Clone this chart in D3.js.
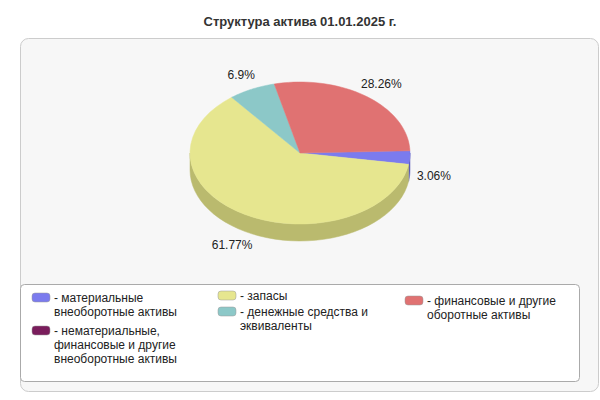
<!DOCTYPE html>
<html><head><meta charset="utf-8">
<script src="https://cdn.jsdelivr.net/npm/d3@7"></script>
<style>body{margin:0;background:#fff;font-family:"Liberation Sans",Arial,sans-serif}</style>
</head><body><svg width="600" height="400"></svg>
<script>
const categories = ["материальные внеоборотные активы","нематериальные, финансовые и другие внеоборотные активы","запасы","денежные средства и эквиваленты","финансовые и другие оборотные активы"];
const values = [3.06, 0, 61.77, 6.9, 28.26];
const labels = ["3.06%", "", "61.77%", "6.9%", "28.26%"];
const colors = ["#7b7bee", "#7a1d5c", "#e6e68f", "#8cc8c8", "#e07272"];
const sideColors = ["#5a5ab8", "#5a1444", "#baba6e", "#6aa0a0", "#b05858"];

const svg = d3.select("svg");
svg.append("text").attr("x", 300).attr("y", 26).attr("text-anchor", "middle")
  .style("font-weight", "bold").style("font-size", "13px").attr("fill", "#333")
  .text("Структура актива 01.01.2025 г.");
svg.append("rect").attr("x", 20.5).attr("y", 38.5).attr("width", 578).attr("height", 353)
  .attr("rx", 8).attr("fill", "#f7f7f7").attr("stroke", "#ccc");

const cx = 300, cy = 153, rx = 110, ry = 71, depth = 17;
const pt = (a, dy = 0) => [cx + rx * Math.sin(a), cy - ry * Math.cos(a) + dy];
const pie = d3.pie().sort(null).startAngle(Math.PI * 0.49).endAngle(Math.PI * 2.49);
const arcs = pie(values);

function arcPath(a0, a1, dy) {
  const n = 40; let s = "";
  for (let i = 0; i <= n; i++) { const p = pt(a0 + (a1 - a0) * i / n, dy); s += (i ? "L" : "M") + p; }
  return s;
}
// side walls (front half: angles between PI/2 and 3PI/2 mod 2PI)
arcs.forEach((d, i) => {
  if (d.value === 0) return;
  [[Math.PI / 2, Math.PI * 1.5], [Math.PI * 2.5, Math.PI * 3.5]].forEach(([lo, hi]) => {
    const a0 = Math.max(d.startAngle, lo), a1 = Math.min(d.endAngle, hi);
    if (a1 <= a0) return;
    const top = arcPath(a0, a1, 0);
    const bot = arcPath(a1, a0, depth).replace("M", "L");
    svg.append("path").attr("d", top + bot + "Z").attr("fill", sideColors[i]).attr("stroke", sideColors[i]).attr("stroke-width", 0.5);
  });
});
// top faces
arcs.forEach((d, i) => {
  if (d.value === 0) return;
  svg.append("path").attr("d", `M${cx},${cy}` + arcPath(d.startAngle, d.endAngle, 0).replace("M", "L") + "Z")
    .attr("fill", colors[i]).attr("stroke", colors[i]).attr("stroke-width", 0.5);
});
// labels
arcs.forEach((d, i) => {
  if (!labels[i]) return;
  const m = (d.startAngle + d.endAngle) / 2;
  let x = cx + rx * 1.22 * Math.sin(m), y = cy - ry * 1.22 * Math.cos(m) + 4;
  if (Math.cos(m) < 0) y += depth;
  svg.append("text").attr("x", x).attr("y", y).attr("text-anchor", "middle")
    .style("font-size", "12px").attr("fill", "#222").text(labels[i]);
});

// legend
svg.append("rect").attr("x", 20.5).attr("y", 284.5).attr("width", 559).attr("height", 97)
  .attr("rx", 4).attr("fill", "#fff").attr("stroke", "#aaa");
const legendLines = [["- материальные", "внеоборотные активы"], ["- нематериальные,", "финансовые и другие", "внеоборотные активы"],
  ["- запасы"], ["- денежные средства и", "эквиваленты"], ["- финансовые и другие", "оборотные активы"]];
const legendPos = [[32, 298], [32, 331], [218, 296], [218, 312], [405, 301]];
legendLines.forEach((lines, i) => {
  const [x, y] = legendPos[i];
  svg.append("rect").attr("x", x).attr("y", y - 5).attr("width", 18).attr("height", 9).attr("rx", 3)
    .attr("fill", colors[i]).attr("stroke", "#999").attr("stroke-width", 0.5);
  const t = svg.append("text").attr("x", x + 22).attr("y", y + 4).style("font-size", "12px").attr("fill", "#222");
  lines.forEach((l, j) => t.append("tspan").attr("x", x + 22).attr("dy", j ? 14 : 0).text(l));
});
</script></body></html>
